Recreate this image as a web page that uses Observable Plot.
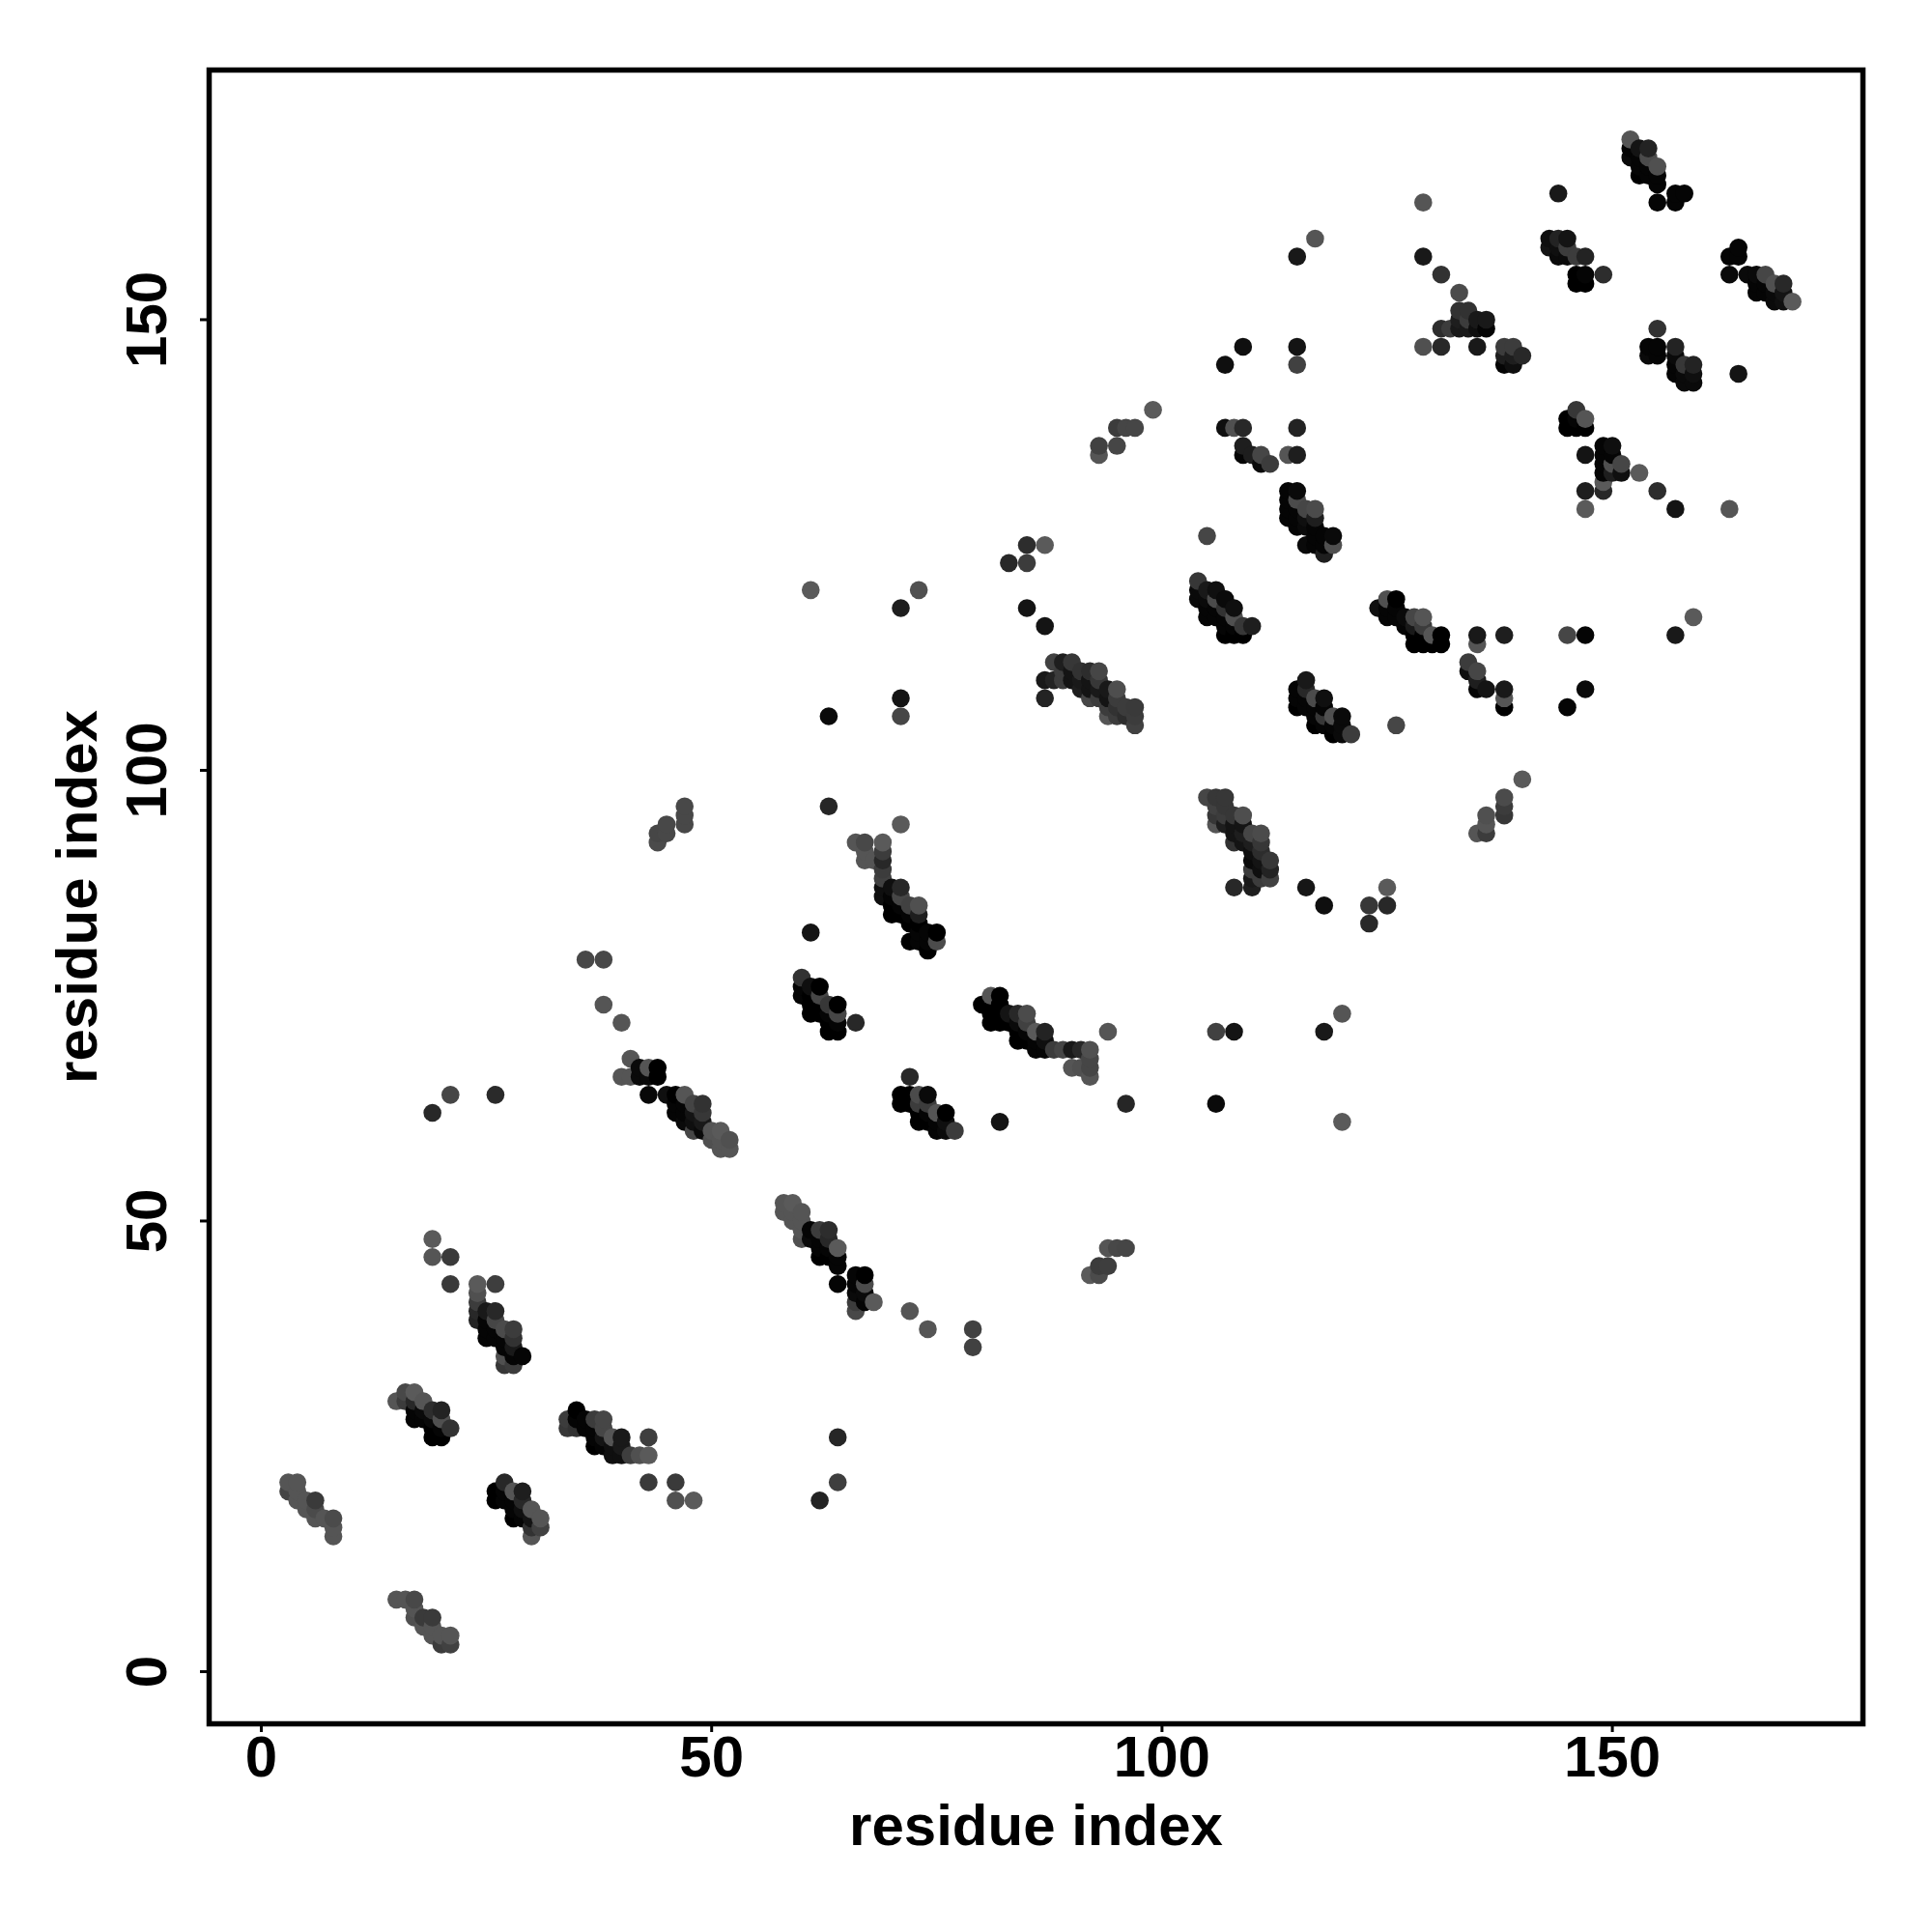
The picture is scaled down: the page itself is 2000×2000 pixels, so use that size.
<!DOCTYPE html>
<html>
<head>
<meta charset="utf-8">
<script src="https://cdn.jsdelivr.net/npm/d3@7"></script>
<script src="https://cdn.jsdelivr.net/npm/@observablehq/plot@0.6"></script>
<style>html,body{margin:0;padding:0;background:#fff}svg{display:block}</style>
</head>
<body>
<div id="chart"></div>
<script>
// each contact: [residue i, residue j, grey level]
const helixA = [[3,20,68],[3,21,85],[4,19,85],[4,20,85],[4,21,85],[5,18,85],[5,19,85],[6,17,85],[6,18,75],[6,19,58],[7,17,85],[8,15,85],[8,16,85],[8,17,75]];
const helixB = [[15,8,85],[16,8,85],[17,6,80],[17,7,85],[17,8,72],[18,5,85],[18,6,58],[19,4,85],[19,5,85],[19,6,58],[20,3,60],[20,4,85],[21,3,65],[21,4,85]];
const scatterA = [[19,46,85],[19,48,90],[21,43,58],[21,46,58],[26,43,62],[19,62,40],[21,64,70],[26,64,42]];
const helixC = [[24,39,35],[24,40,40],[24,41,60],[24,42,80],[24,43,90],[25,37,5],[25,38,5],[25,39,5],[25,40,25],[26,37,5],[26,38,5],[26,39,70],[26,40,40],[27,34,55],[27,35,80],[27,36,5],[27,37,5],[27,38,75],[28,34,60],[28,35,5],[28,36,25],[28,37,50],[28,38,60],[29,35,5]];
const helixD = [[15,30,85],[16,30,60],[16,31,72],[17,28,5],[17,29,5],[17,30,40],[17,31,90],[18,28,5],[18,29,10],[18,30,85],[19,26,0],[19,27,0],[19,28,10],[19,29,45],[20,26,0],[20,27,5],[20,28,80],[20,29,35],[21,27,50]];
const helixE = [[26,19,0],[26,20,0],[27,19,5],[27,20,5],[27,21,40],[28,17,0],[28,18,5],[28,19,5],[28,20,85],[29,17,5],[29,18,15],[29,19,40],[29,20,30],[30,15,85],[30,16,50],[30,17,20],[30,18,85],[31,16,65],[31,17,85]];
const helixF = [[34,27,55],[34,28,60],[35,27,50],[35,28,5],[35,29,0],[36,27,5],[36,28,5],[37,25,0],[37,26,5],[37,27,5],[37,28,60],[38,25,5],[38,26,20],[38,27,70],[38,28,70],[39,24,15],[39,25,15],[39,26,85],[40,24,15],[40,25,25],[40,26,25],[41,24,62],[42,24,80],[43,24,90],[43,26,62],[43,21,58],[46,19,80],[46,21,58],[48,19,90],[62,19,35],[64,21,62],[64,26,38]];
const helixG = [[36,79,72],[38,79,72],[38,74,85],[40,72,85],[41,68,85],[40,66,85],[41,66,85],[42,66,10],[42,67,10],[43,64,8],[43,66,10],[43,67,85],[44,66,0],[44,67,0],[45,64,15],[46,62,5],[46,63,5],[46,64,0],[47,61,10],[47,62,5],[47,63,5],[47,64,85],[48,60,70],[48,61,15],[48,62,20],[48,63,68],[49,60,10],[49,61,25],[49,62,55],[49,63,50],[50,59,80],[50,60,85],[51,58,85],[51,59,85],[51,60,90],[52,58,85],[52,59,80]];
const scatterB = [[44,92,75],[44,93,70],[45,93,72],[45,94,72],[47,94,72],[47,95,72],[47,96,72]];
const helixH = [[58,51,85],[58,52,85],[59,50,85],[59,51,85],[59,52,90],[60,48,80],[60,49,85],[60,50,85],[60,51,85],[61,48,10],[61,49,5],[62,46,0],[62,47,5],[62,48,5],[62,49,60],[63,46,0],[63,47,5],[63,48,40],[63,49,45],[64,43,5],[64,45,5],[64,46,5],[64,47,90],[66,40,72],[66,41,60],[66,42,10],[66,43,5],[66,44,5],[67,41,5],[67,42,10],[67,43,75],[67,44,0],[68,41,90],[72,40,85],[74,38,85],[79,36,65],[79,38,65]];
const scatterC = [[92,44,90],[93,44,75],[93,45,60],[94,45,62],[94,47,85],[95,47,72],[96,47,70]];
const helixI = [[61,82,20],[66,92,85],[67,90,85],[67,91,85],[67,92,72],[68,90,85],[69,86,15],[69,87,15],[69,88,65],[69,89,60],[69,90,40],[69,91,60],[69,92,90],[70,84,0],[70,85,0],[70,86,5],[70,87,15],[71,84,0],[71,85,5],[71,86,70],[71,87,40],[72,81,0],[72,83,0],[72,84,5],[72,85,65],[73,81,5],[73,82,5],[73,83,0],[73,84,30],[73,85,80],[74,80,0],[74,81,5],[74,82,5],[75,81,75],[75,82,0],[71,94,90]];
const helixJ = [[60,75,5],[60,76,5],[60,77,50],[61,73,0],[61,74,0],[61,75,0],[61,76,15],[62,73,0],[62,74,0],[62,75,70],[62,76,0],[63,71,0],[63,72,0],[63,73,5],[63,74,55],[64,71,0],[64,72,5],[64,73,70],[64,74,0],[66,72,40]];
const helixK = [[71,63,0],[71,64,0],[72,63,0],[72,64,0],[72,66,40],[73,61,0],[73,62,0],[73,63,60],[73,64,75],[74,61,0],[74,62,5],[74,63,60],[74,64,10],[75,60,5],[75,61,5],[75,62,85],[76,60,10],[76,61,15],[76,62,0],[77,60,60],[82,61,20],[96,63,38]];
const helixL = [[80,74,0],[81,72,0],[81,73,0],[81,74,0],[81,75,85],[82,72,0],[82,73,0],[82,74,0],[82,75,0],[83,72,0],[83,73,20],[84,70,0],[84,71,0],[84,72,10],[84,73,40],[85,70,0],[85,71,5],[85,72,65],[85,73,75],[86,69,5],[86,70,5],[86,71,90],[87,69,5],[87,70,15],[87,71,35],[88,69,60],[89,69,70],[90,67,85],[90,69,25],[91,67,80],[91,69,40],[92,66,85],[92,67,70],[92,68,70],[92,69,80],[94,71,85]];
const helixM = [[105,97,70],[106,94,85],[106,95,55],[106,96,65],[106,97,55],[107,94,30],[107,95,60],[107,96,55],[107,97,55],[108,87,40],[108,92,50],[108,93,20],[108,94,20],[108,95,55],[109,92,20],[109,93,30],[109,94,20],[109,95,78],[110,87,30],[110,88,25],[110,89,60],[110,90,10],[110,91,15],[110,92,30],[110,93,70],[111,88,60],[111,89,15],[111,90,20],[111,91,45],[111,92,55],[111,93,75],[112,88,65],[112,89,35],[112,90,55]];
const scatterD = [[106,63,10],[106,71,65],[108,71,20],[116,87,22],[118,85,15],[118,71,25],[120,73,85],[120,61,90],[123,83,40],[123,85,55],[125,85,40],[125,87,90],[135,93,85],[136,93,60],[136,94,85],[136,95,80],[138,95,55],[138,96,60],[138,97,75],[140,99,90]];
const scatterE = [[63,96,38],[63,106,10],[61,120,90],[71,106,70],[71,108,20],[71,118,30],[73,120,80],[83,123,40],[85,123,60],[85,125,45],[87,125,90],[85,118,20],[87,116,20],[87,108,35],[87,110,25]];
const helixN = [[88,110,35],[88,112,65],[89,110,60],[89,111,60],[89,112,30],[90,110,20],[90,111,20],[90,112,55],[91,109,30],[91,110,25],[91,111,50],[92,108,70],[92,109,20],[92,110,20],[92,111,45],[93,108,60],[93,109,25],[93,110,55],[93,111,70],[94,106,85],[94,107,60],[94,108,20],[94,109,25],[95,106,60],[95,107,50],[95,108,60],[95,109,78],[96,106,45],[96,107,60],[97,105,65],[97,106,60],[97,107,58]];
const scatterF = [[93,135,85],[93,136,65],[95,136,70],[95,138,60],[96,138,70],[97,138,70],[99,140,90],[105,126,70],[107,138,15],[108,138,80],[109,135,5],[109,136,30],[109,138,40],[110,135,30],[111,134,10],[111,135,70],[112,134,60],[107,145,15],[109,147,15],[114,135,85],[115,135,30],[115,138,35],[115,145,65],[115,147,20],[115,157,25],[117,159,85]];
const helixO = [[114,128,5],[114,129,5],[114,130,5],[114,131,5],[115,127,5],[115,128,5],[115,129,5],[115,130,75],[115,131,10],[116,125,10],[116,127,10],[116,128,15],[116,129,70],[117,125,5],[117,126,5],[117,127,5],[117,128,30],[117,129,75],[118,124,30],[118,125,5],[118,126,5],[119,125,80],[119,126,10]];
const helixP = [[104,119,10],[104,120,10],[104,121,55],[105,117,5],[105,118,5],[105,119,10],[105,120,25],[106,117,5],[106,118,5],[106,119,75],[106,120,15],[107,115,0],[107,116,5],[107,117,5],[107,118,50],[107,119,10],[108,115,0],[108,116,5],[108,117,80],[108,118,15],[109,115,0],[109,116,55],[110,116,30]];
const helixQ = [[115,107,0],[115,108,5],[115,109,5],[116,107,5],[116,108,5],[116,109,40],[116,110,25],[117,105,0],[117,106,5],[117,107,5],[117,108,75],[118,105,5],[118,106,55],[118,107,5],[118,108,15],[119,104,0],[119,105,5],[119,106,80],[120,104,10],[120,105,10],[120,106,10],[121,104,60]];
const helixR = [[124,118,15],[125,117,5],[125,118,5],[125,119,80],[126,117,5],[126,118,5],[126,119,0],[127,116,5],[127,117,10],[128,114,0],[128,115,0],[128,116,25],[128,117,70],[129,114,0],[129,115,0],[129,116,60],[129,117,85],[130,114,0],[130,115,85],[131,114,0],[131,115,0],[126,105,70]];
const scatterG = [[134,111,15],[134,112,60],[135,109,5],[135,110,30],[135,111,70],[136,109,20],[135,114,85],[135,115,25],[138,107,0],[138,108,85],[138,109,25],[138,115,30],[145,107,5],[147,109,10],[145,115,70],[147,115,5],[157,115,25],[159,117,90],[163,129,85],[157,129,20],[155,131,45]];
const helixS = [[145,138,0],[145,139,0],[146,138,0],[146,139,5],[146,140,55],[147,138,0],[147,139,85],[147,135,20],[147,131,30],[147,129,90],[149,131,40],[149,132,90],[149,133,5],[149,134,5],[149,135,5],[149,136,5],[150,133,30],[150,134,80],[150,135,5],[150,136,15],[151,133,15],[151,134,70],[153,133,90]];
const helixT = [[129,147,80],[129,157,25],[129,163,85],[131,147,40],[131,149,45],[131,155,50],[133,153,75],[132,149,60],[133,149,25],[133,150,30],[133,151,50],[134,149,25],[134,150,60],[134,151,50],[135,147,25],[135,149,15],[135,150,25],[136,149,5],[136,150,25],[138,145,5],[138,146,30],[138,147,60],[139,145,15],[139,146,30],[139,147,60],[140,146,40]];
const helixU = [[143,158,20],[143,159,15],[144,157,10],[144,158,15],[144,159,35],[144,164,25],[145,157,10],[145,158,60],[145,159,20],[146,154,0],[146,155,0],[146,157,60],[147,154,0],[147,155,5],[147,157,35],[149,155,45]];
const helixV = [[152,168,10],[152,169,5],[152,170,85],[153,166,0],[153,167,5],[153,168,5],[153,169,20],[154,166,5],[154,167,5],[154,168,75],[154,169,35],[155,163,5],[155,165,5],[155,166,5],[155,167,80],[157,163,5],[157,164,5],[158,164,5],[164,144,20]];
const helixW = [[163,155,10],[163,157,5],[164,157,5],[164,158,5],[165,155,10],[166,153,5],[166,154,5],[166,155,10],[167,153,5],[167,154,5],[167,155,70],[168,152,10],[168,153,10],[168,154,80],[169,152,15],[169,153,20],[169,154,40],[170,152,90]];
const helixX = [[154,146,10],[154,147,5],[155,146,5],[155,147,5],[155,149,50],[157,144,5],[157,145,5],[157,146,10],[157,147,35],[158,143,10],[158,144,10],[158,145,55],[159,143,10],[159,144,15],[159,145,35]];

const tickValues = [0, 50, 100, 150];
const axisTitle = "residue index";

const contacts = [helixA,helixB,scatterA,helixC,helixD,helixE,helixF,helixG,scatterB,helixH,scatterC,helixI,helixJ,helixK,helixL,helixM,scatterD,scatterE,helixN,scatterF,helixO,helixP,helixQ,helixR,scatterG,helixS,helixT,helixU,helixV,helixW,helixX].flat();
const rows = d3.sort(contacts, d => d[0], d => d[1]).map(([i, j, level]) => ({i, j, level}));

const chart = Plot.plot({
  width: 2000,
  height: 2000,
  marginLeft: 216,
  marginRight: 72,
  marginTop: 72,
  marginBottom: 216,
  style: {fontFamily: "'Liberation Sans', Arial, sans-serif", fontWeight: "bold", fontSize: "60px", background: "#fff", color: "#000"},
  x: {domain: [-5.79, 177.82]},
  y: {domain: [-5.79, 177.7]},
  color: {type: "linear", domain: [0, 255], range: ["#000", "#fff"]},
  marks: [
    Plot.dot(rows, {x: "i", y: "j", fill: "level", r: 9.3}),
    Plot.frame({stroke: "#000", strokeWidth: 5.5}),
    Plot.axisX({ticks: tickValues, tickSize: 9, tickPadding: 3, strokeWidth: 3, fontSize: 60, label: null}),
    Plot.axisY({ticks: tickValues, tickSize: 9, tickPadding: 36, tickRotate: -90, strokeWidth: 3, fontSize: 60, label: null}),
    Plot.text([axisTitle], {frameAnchor: "bottom", dy: 125, fontSize: 60, fontWeight: "bold", fill: "#000", textAnchor: "middle", lineAnchor: "bottom"}),
    Plot.text([axisTitle], {frameAnchor: "left", dx: -117, rotate: -90, fontSize: 60, fontWeight: "bold", fill: "#000", textAnchor: "middle", lineAnchor: "bottom"})
  ]
});
document.getElementById("chart").appendChild(chart);
</script>
</body>
</html>
